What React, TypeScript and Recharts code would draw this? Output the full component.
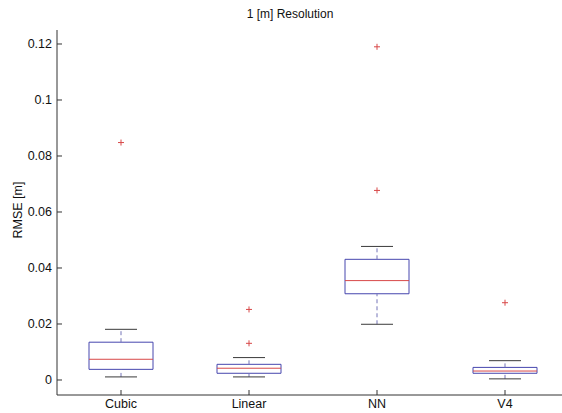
import React from 'react';
import {
  ComposedChart,
  XAxis,
  YAxis,
  Scatter,
  ReferenceArea,
  ReferenceLine,
} from 'recharts';

const categories = ['Cubic', 'Linear', 'NN', 'V4'];
const lowerWhisker = [0.0011, 0.0011, 0.0199, 0.0004];
const q1 = [0.0038, 0.0024, 0.0308, 0.0024];
const median = [0.0074, 0.0042, 0.0355, 0.0032];
const q3 = [0.0135, 0.0056, 0.0431, 0.0045];
const upperWhisker = [0.0181, 0.008, 0.0477, 0.0069];
const outliers = [[0.0848], [0.0252, 0.0131], [0.119, 0.0677], [0.0276]];
const yTicks = [0, 0.02, 0.04, 0.06, 0.08, 0.1, 0.12];
const yTickLabels = ['0', '0.02', '0.04', '0.06', '0.08', '0.1', '0.12'];

const outlierData = outliers.flatMap((vals, i) => vals.map((v) => ({ x: i + 1, y: v })));

const BOX_COLOR = '#4646ae';
const MED_COLOR = '#d84848';
const WHISK_COLOR = '#7474b8';
const CAP_COLOR = '#3a3a3a';
const AXIS_COLOR = '#333333';
const FONT = 'Liberation Sans, Arial, sans-serif';

const Plus = (props: any) => {
  const { cx, cy } = props;
  if (cx == null || cy == null) return null;
  return (
    <g>
      <line x1={cx - 3} x2={cx + 3} y1={cy} y2={cy} stroke={MED_COLOR} strokeWidth={1} />
      <line x1={cx} x2={cx} y1={cy - 3} y2={cy + 3} stroke={MED_COLOR} strokeWidth={1} />
    </g>
  );
};

export default function App() {
  const boxes = categories.map((_, i) => {
    const c = i + 1;
    return (
      <React.Fragment key={i}>
        <ReferenceLine
          xAxisId="b"
          segment={[{ x: c, y: q3[i] }, { x: c, y: upperWhisker[i] }]}
          stroke={WHISK_COLOR}
          strokeDasharray="4 3"
          ifOverflow="visible"
        />
        <ReferenceLine
          xAxisId="b"
          segment={[{ x: c, y: lowerWhisker[i] }, { x: c, y: q1[i] }]}
          stroke={WHISK_COLOR}
          strokeDasharray="4 3"
          ifOverflow="visible"
        />
        <ReferenceLine
          xAxisId="b"
          segment={[{ x: c - 0.125, y: upperWhisker[i] }, { x: c + 0.125, y: upperWhisker[i] }]}
          stroke={CAP_COLOR}
          ifOverflow="visible"
        />
        <ReferenceLine
          xAxisId="b"
          segment={[{ x: c - 0.125, y: lowerWhisker[i] }, { x: c + 0.125, y: lowerWhisker[i] }]}
          stroke={CAP_COLOR}
          ifOverflow="visible"
        />
        <ReferenceArea
          xAxisId="b"
          x1={c - 0.25}
          x2={c + 0.25}
          y1={q1[i]}
          y2={q3[i]}
          fill="none"
          fillOpacity={0}
          stroke={BOX_COLOR}
          strokeWidth={1}
          ifOverflow="visible"
        />
        <ReferenceLine
          xAxisId="b"
          segment={[{ x: c - 0.25, y: median[i] }, { x: c + 0.25, y: median[i] }]}
          stroke={MED_COLOR}
          ifOverflow="visible"
        />
      </React.Fragment>
    );
  });

  return (
    <div
      style={{
        position: 'absolute',
        left: 0,
        top: 0,
        width: 562,
        height: 413,
        overflow: 'hidden',
        background: '#fff',
        fontFamily: FONT,
      }}
    >
      <div
        style={{
          position: 'absolute',
          left: 190,
          width: 200,
          top: 7,
          textAlign: 'center',
          fontSize: 12,
          color: '#111',
        }}
      >
        1 [m] Resolution
      </div>
      <div
        style={{
          position: 'absolute',
          left: 18,
          top: 210,
          transform: 'translate(-50%, -50%) rotate(-90deg)',
          fontSize: 12.5,
          color: '#111',
          whiteSpace: 'nowrap',
        }}
      >
        RMSE [m]
      </div>
      <div style={{ position: 'absolute', left: 0, top: 0 }}>
        <ComposedChart
          width={600}
          height={413}
          margin={{ top: 30, right: 31, bottom: 0, left: 0 }}
          data={outlierData}
        >
          <XAxis
            xAxisId="b"
            type="number"
            dataKey="x"
            domain={[0.5, 4.5]}
            ticks={[1, 2, 3, 4]}
            tickFormatter={(v: number) => categories[v - 1] ?? ''}
            allowDataOverflow
            height={18}
            tickSize={-5}
            tickMargin={9}
            stroke={AXIS_COLOR}
            tick={{ fill: '#111', fontSize: 12.5, fontFamily: FONT }}
            interval={0}
          />
          <XAxis
            xAxisId="t"
            orientation="top"
            type="number"
            dataKey="x"
            domain={[0.5, 4.5]}
            ticks={[1, 2, 3, 4]}
            allowDataOverflow
            height={0}
            tickSize={-5}
            tick={false}
            stroke={AXIS_COLOR}
          />
          <YAxis
            type="number"
            domain={[-0.00536, 0.125]}
            ticks={yTicks}
            tickFormatter={(v: number) => yTickLabels[yTicks.indexOf(v)] ?? String(v)}
            allowDataOverflow
            width={57}
            tickSize={-5}
            tickMargin={10}
            stroke={AXIS_COLOR}
            tick={{ fill: '#111', fontSize: 12.5, fontFamily: FONT }}
            interval={0}
          />
          <YAxis
            yAxisId="r"
            orientation="right"
            type="number"
            domain={[-0.00536, 0.125]}
            ticks={yTicks}
            allowDataOverflow
            width={0}
            tickSize={-5}
            tick={false}
            stroke={AXIS_COLOR}
          />
          {boxes}
          <Scatter
            xAxisId="b"
            data={outlierData}
            dataKey="y"
            shape={<Plus />}
            isAnimationActive={false}
          />
        </ComposedChart>
      </div>
    </div>
  );
}
